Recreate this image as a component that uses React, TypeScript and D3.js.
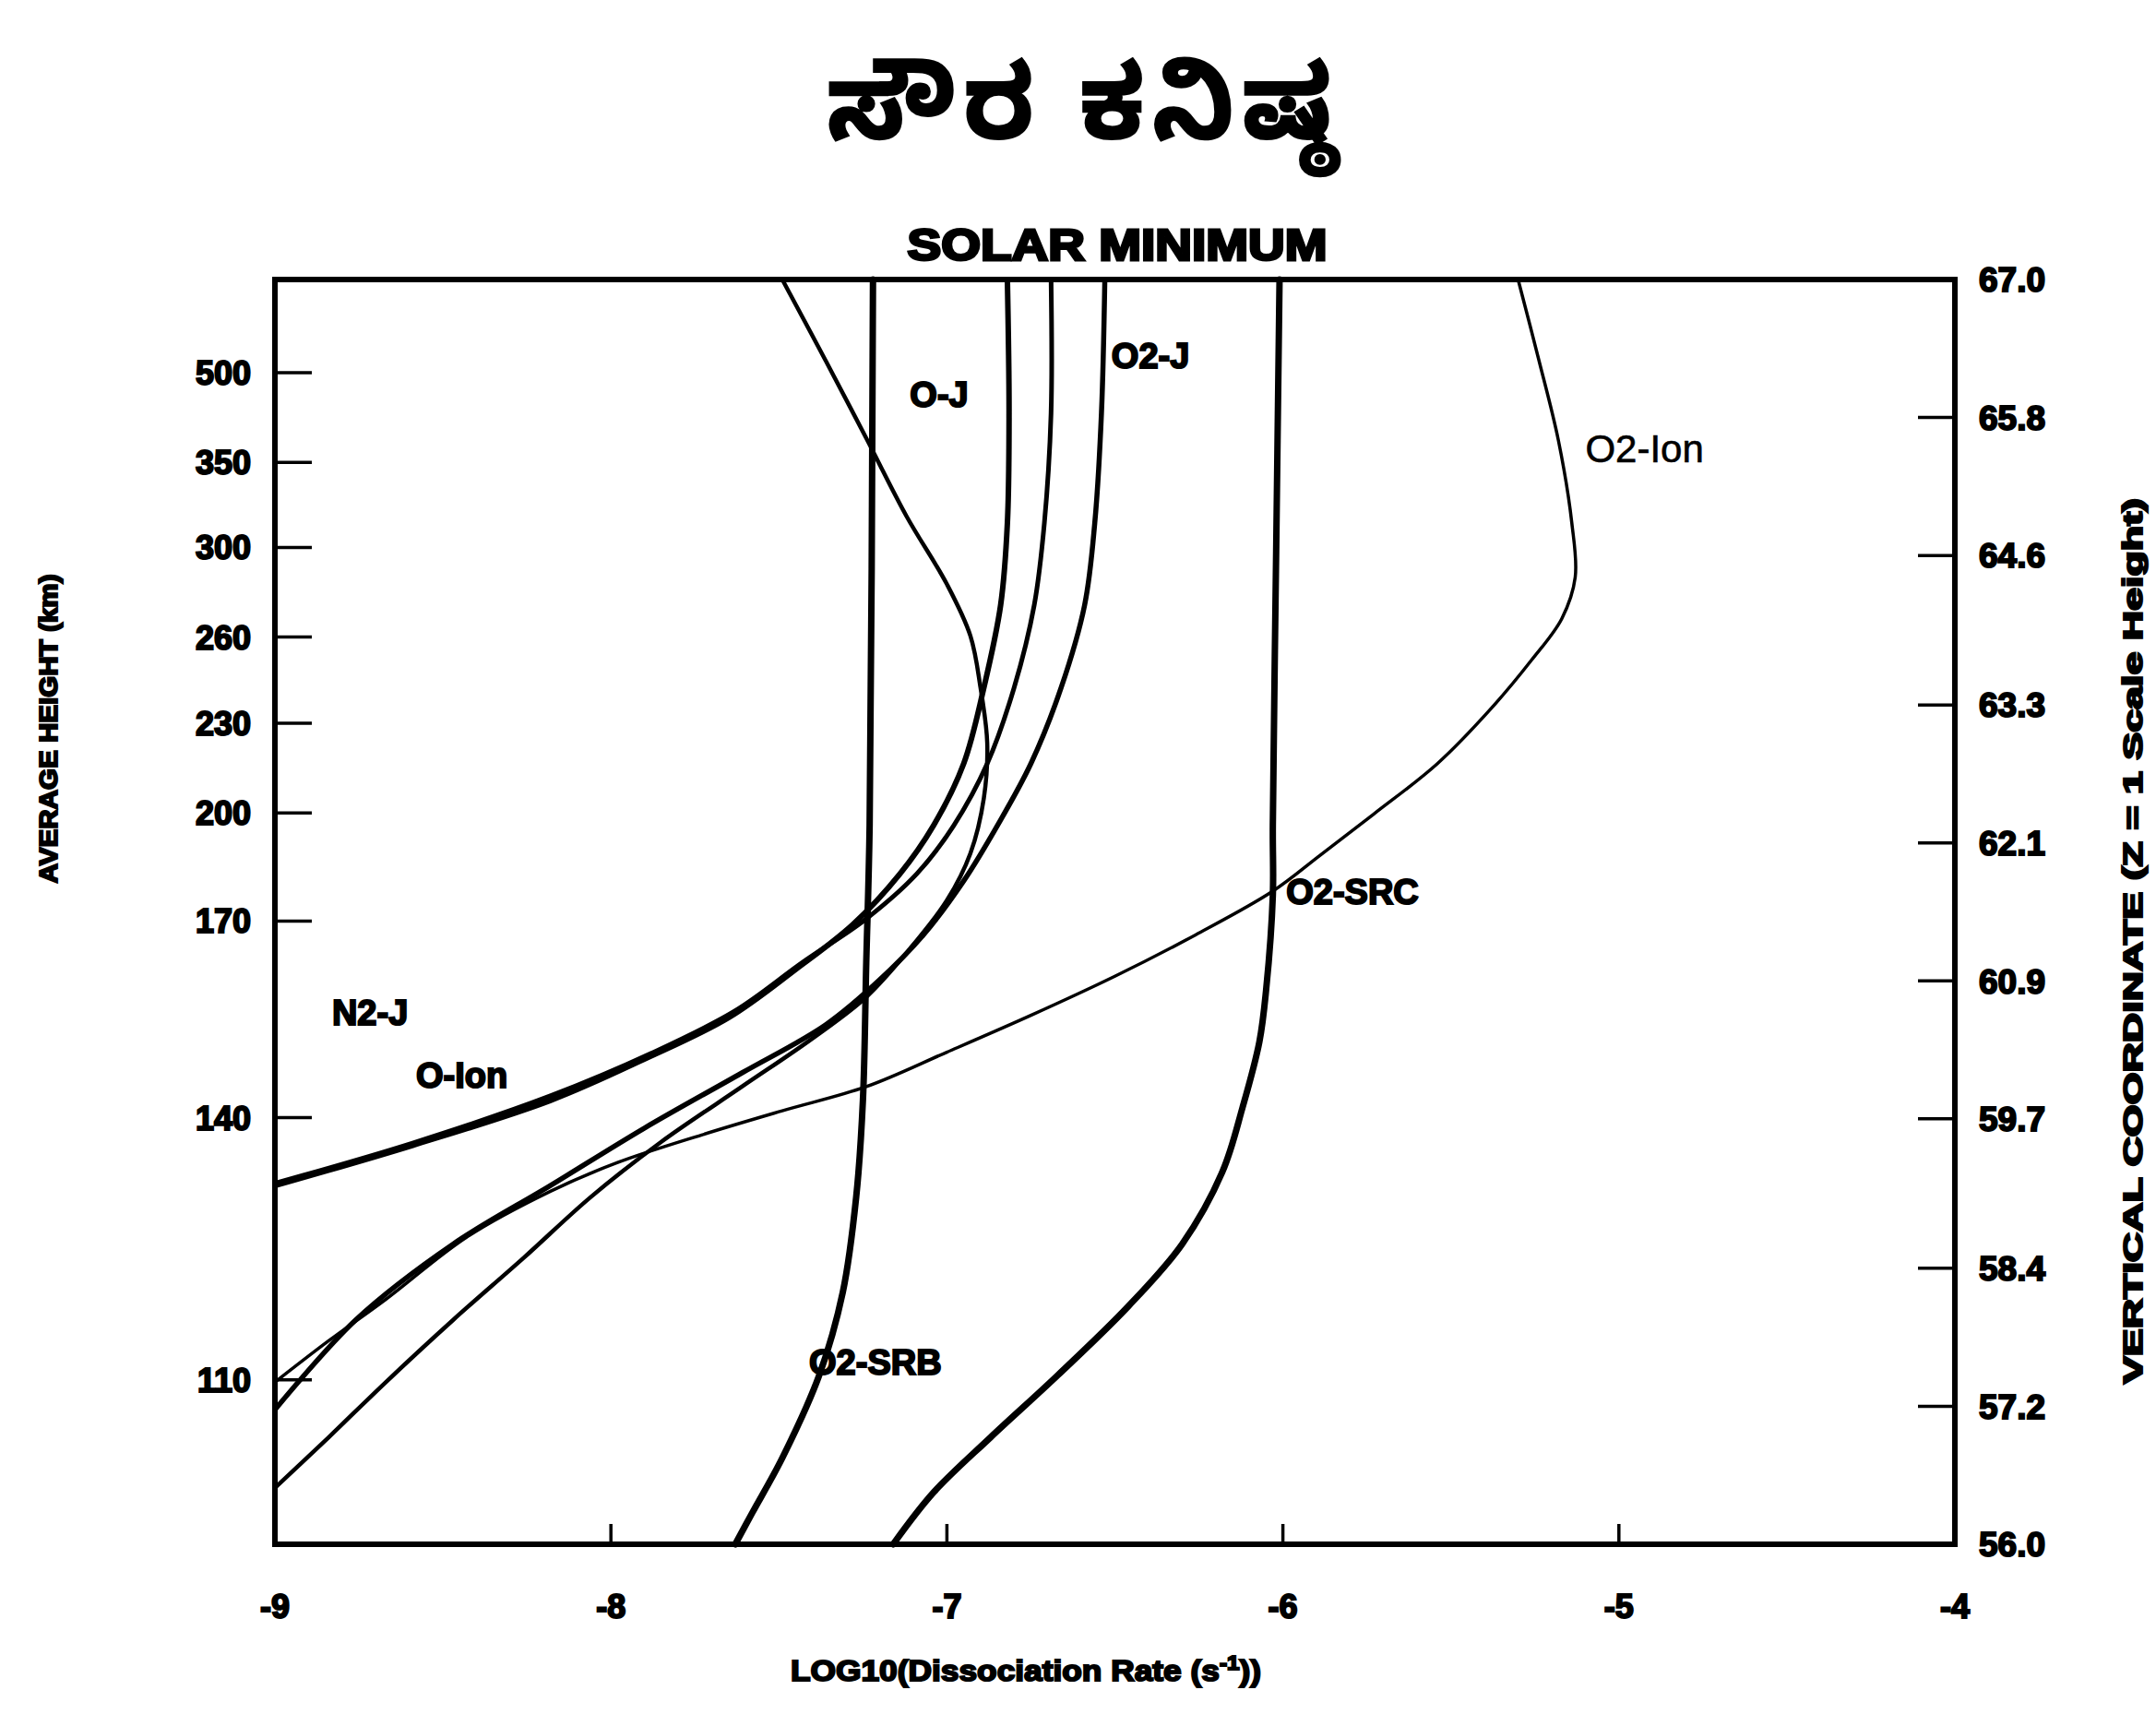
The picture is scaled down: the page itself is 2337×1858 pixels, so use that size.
import React from 'react';
import * as d3 from 'd3';

// chart: solar minimum dissociation rates vs vertical coordinate
const W = 2337;
const H = 1858;

const rateTicks = [-9, -8, -7, -6, -5, -4];
const zTickLabels = ['56.0', '57.2', '58.4', '59.7', '60.9', '62.1', '63.3', '64.6', '65.8', '67.0'];
const heightLabels = ['110', '140', '170', '200', '230', '260', '300', '350', '500'];
const heightTickZ = [57.43, 59.71, 61.42, 62.36, 63.14, 63.89, 64.67, 65.41, 66.19];

// [log10 rate, Z]
const o2Src: [number, number][] = [
    [-6.01, 67.0], [-6.02, 64.64], [-6.03, 62.25], [-6.03, 61.64], [-6.05, 60.82],
    [-6.07, 60.37], [-6.12, 59.8], [-6.18, 59.24], [-6.3, 58.61], [-6.46, 58.07],
    [-6.67, 57.47], [-6.87, 56.93], [-7.04, 56.45], [-7.16, 56.0],
];
const o2Srb: [number, number][] = [
    [-7.22, 67.0], [-7.23, 62.25], [-7.24, 61.06], [-7.25, 59.86], [-7.27, 59.02],
    [-7.31, 58.19], [-7.38, 57.47], [-7.49, 56.75], [-7.58, 56.27], [-7.63, 56.0],
];
const o2Ion: [number, number][] = [
    [-5.3, 67.0], [-5.24, 66.32], [-5.18, 65.6], [-5.14, 64.88], [-5.13, 64.41],
    [-5.17, 64.05], [-5.26, 63.69], [-5.38, 63.27], [-5.54, 62.79], [-5.73, 62.35],
    [-5.89, 61.99], [-6.03, 61.68], [-6.26, 61.3], [-6.5, 60.94], [-6.75, 60.6],
    [-7.0, 60.28], [-7.24, 59.98], [-7.49, 59.77], [-7.73, 59.56], [-7.98, 59.32],
    [-8.18, 59.07], [-8.43, 58.67], [-8.67, 58.13], [-8.84, 57.77], [-9.0, 57.41],
];
const n2J: [number, number][] = [
    [-6.82, 67.0], [-6.815, 65.84], [-6.82, 64.88], [-6.84, 64.17], [-6.89, 63.45],
    [-6.95, 62.79], [-7.04, 62.25], [-7.14, 61.83], [-7.28, 61.39], [-7.45, 61.0],
    [-7.65, 60.58], [-7.9, 60.22], [-8.18, 59.86], [-8.59, 59.47], [-9.0, 59.12],
];
const oJ: [number, number][] = [
    [-6.69, 67.0], [-6.69, 65.84], [-6.71, 64.88], [-6.74, 64.17], [-6.8, 63.45],
    [-6.88, 62.79], [-6.98, 62.25], [-7.09, 61.83], [-7.24, 61.44], [-7.43, 61.06],
    [-7.63, 60.64], [-7.88, 60.27], [-8.18, 59.9], [-8.59, 59.49], [-9.0, 59.14],
];
const oIon: [number, number][] = [
    [-7.49, 67.0], [-7.36, 66.29], [-7.24, 65.62], [-7.12, 64.94], [-7.0, 64.35],
    [-6.93, 63.9], [-6.9, 63.45], [-6.88, 62.97], [-6.89, 62.49], [-6.93, 62.01],
    [-7.0, 61.6], [-7.11, 61.18], [-7.24, 60.76], [-7.4, 60.4], [-7.61, 59.98],
    [-7.85, 59.5], [-8.06, 59.02], [-8.26, 58.49], [-8.47, 57.95], [-8.67, 57.41],
    [-8.84, 56.93], [-9.0, 56.49],
];
const o2J: [number, number][] = [
    [-6.53, 67.0], [-6.54, 65.84], [-6.56, 64.88], [-6.59, 64.17], [-6.66, 63.45],
    [-6.75, 62.79], [-6.85, 62.25], [-6.95, 61.77], [-7.07, 61.3], [-7.2, 60.91],
    [-7.36, 60.52], [-7.61, 60.1], [-7.9, 59.62], [-8.18, 59.12], [-8.47, 58.61],
    [-8.76, 57.95], [-9.0, 57.17],
];

const curves = [
    { name: 'O2-SRC', points: o2Src, width: 7 },
    { name: 'O2-SRB', points: o2Srb, width: 7 },
    { name: 'O2-Ion', points: o2Ion, width: 3.5 },
    { name: 'N2-J', points: n2J, width: 6 },
    { name: 'O-J', points: oJ, width: 5 },
    { name: 'O-Ion', points: oIon, width: 4.5 },
    { name: 'O2-J', points: o2J, width: 5.5 },
];

const curveLabels = ['O-J', 'O2-J', 'O2-Ion', 'O2-SRC', 'N2-J', 'O-Ion', 'O2-SRB'];
const curveLabelRate = [-7.11, -6.51, -5.1, -5.99, -8.83, -8.58, -7.41];
const curveLabelZ = [66.0, 66.34, 65.53, 61.68, 60.63, 60.08, 57.59];

const margin = { left: 298, right: 218, top: 303, bottom: 184 };

const App: React.FC = () => {
    const x = d3
        .scaleLinear()
        .domain([-9, -4])
        .range([margin.left, W - margin.right]);
    const y = d3
        .scaleLinear()
        .domain([56, 67])
        .range([H - margin.bottom, margin.top]);

    const line = d3
        .line<[number, number]>()
        .x((d) => x(d[0]))
        .y((d) => y(d[1]))
        .curve(d3.curveCatmullRom.alpha(0.5));

    const x0 = x(-9);
    const x1 = x(-4);
    const y0 = y(56);
    const y1 = y(67);
    const boldText = {
        fontFamily: 'Liberation Sans, Arial, sans-serif',
        fontWeight: 700,
        stroke: '#000',
        strokeWidth: 2,
        paintOrder: 'stroke' as const,
    };

    return (
        <div style={{ position: 'absolute', left: 0, top: 0 }}>
            <svg width={W} height={H} style={{ display: 'block', background: '#fff' }}>
                <text
                    x={1176}
                    y={150}
                    textAnchor="middle"
                    fontSize={110}
                    fontWeight={700}
                    letterSpacing={9}
                    fontFamily="'Noto Sans Kannada', 'Noto Sans', sans-serif"
                    stroke="#000"
                    strokeWidth={2}
                >
                    ಸೌರ ಕನಿಷ್ಠ
                </text>
                <text
                    x={1211}
                    y={282}
                    textAnchor="middle"
                    fontSize={48}
                    textLength={455}
                    lengthAdjust="spacingAndGlyphs"
                    {...boldText}
                    strokeWidth={3}
                >
                    SOLAR MINIMUM
                </text>

                <g fill="none" stroke="#000" strokeLinejoin="round" strokeLinecap="round">
                    {curves.map((c) => (
                        <path key={c.name} d={line(c.points) ?? ''} strokeWidth={c.width} />
                    ))}
                </g>

                {/* frame */}
                <rect
                    x={x0}
                    y={y1}
                    width={x1 - x0}
                    height={y0 - y1}
                    fill="none"
                    stroke="#000"
                    strokeWidth={6}
                />

                {/* left ticks: average height */}
                {heightTickZ.map((z, i) => (
                    <g key={'h' + i}>
                        <line x1={x0} x2={x0 + 40} y1={y(z)} y2={y(z)} stroke="#000" strokeWidth={3.5} />
                        <text
                            x={x0 - 26}
                            y={y(z)}
                            dy="0.36em"
                            textAnchor="end"
                            fontSize={36}
                            {...boldText}
                        >
                            {heightLabels[i]}
                        </text>
                    </g>
                ))}

                {/* right ticks: vertical coordinate */}
                {zTickLabels.map((t) => (
                    <g key={'z' + t}>
                        <line x1={x1} x2={x1 - 40} y1={y(+t)} y2={y(+t)} stroke="#000" strokeWidth={3.5} />
                        <text x={x1 + 26} y={y(+t)} dy="0.36em" fontSize={37} {...boldText}>
                            {t}
                        </text>
                    </g>
                ))}

                {/* bottom ticks */}
                {rateTicks.map((t) => (
                    <g key={'r' + t}>
                        <line x1={x(t)} x2={x(t)} y1={y0} y2={y0 - 22} stroke="#000" strokeWidth={3.5} />
                        <text x={x(t)} y={y0 + 80} textAnchor="middle" fontSize={36} {...boldText}>
                            {t}
                        </text>
                    </g>
                ))}

                {curveLabels.map((l, i) => (
                    <text
                        key={l}
                        x={x(curveLabelRate[i])}
                        y={y(curveLabelZ[i])}
                        dy="0.36em"
                        fontSize={l === 'O2-Ion' ? 42 : 38}
                        {...boldText}
                        fontWeight={l === 'O2-Ion' ? 400 : 700}
                        strokeWidth={l === 'O2-Ion' ? 0.6 : 2}
                    >
                        {l}
                    </text>
                ))}

                <text
                    x={1112}
                    y={1822}
                    textAnchor="middle"
                    fontSize={32}
                    textLength={510}
                    lengthAdjust="spacingAndGlyphs"
                    {...boldText}
                >
                    LOG10(Dissociation Rate (s
                    <tspan baselineShift="super" fontSize={22}>
                        -1
                    </tspan>
                    ))
                </text>

                <text
                    transform={`translate(62,790) rotate(-90)`}
                    textAnchor="middle"
                    fontSize={27}
                    textLength={335}
                    lengthAdjust="spacingAndGlyphs"
                    {...boldText}
                >
                    AVERAGE HEIGHT (km)
                </text>

                <text
                    transform={`translate(2322,1020) rotate(-90)`}
                    textAnchor="middle"
                    fontSize={29}
                    textLength={960}
                    lengthAdjust="spacingAndGlyphs"
                    {...boldText}
                >
                    VERTICAL COORDINATE (Z = 1 Scale Height)
                </text>
            </svg>
        </div>
    );
};

export default App;
